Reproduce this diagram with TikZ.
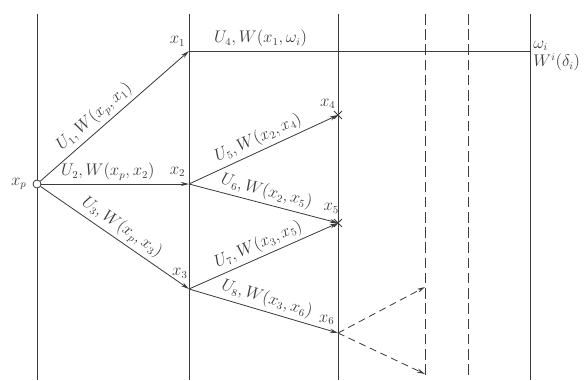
\documentclass[tikz,border=0pt]{standalone}
\usetikzlibrary{arrows.meta,positioning,shapes.misc}
\definecolor{ink}{RGB}{60,60,60}

\begin{document}
\begin{tikzpicture}[x=0.03cm, y=-0.03cm,
    ln/.style={draw=ink, line width=0.7pt},
    arr/.style={ln, -{Stealth[length=7pt, width=3.5pt]}},
    darr/.style={arr, dash pattern=on 6pt off 4pt},
    lbl/.style={font=\fontsize{13.5}{16}\selectfont, text=ink, sloped, above, midway, inner sep=3pt},
    pt/.style={font=\fontsize{13.5}{16}\selectfont, text=ink, inner sep=1pt},
    xmark/.style={cross out, draw=ink, line width=0.7pt, minimum size=6pt, inner sep=0pt}
]
\useasboundingbox (0,0) rectangle (587,380);

% stage boundaries
\foreach \xx in {37,189,338,530}
  \draw[ln] (\xx,14) -- (\xx,380);
\foreach \xx in {425,468}
  \draw[ln, dash pattern=on 9pt off 4pt] (\xx,14) -- (\xx,376);

\node[circle, draw=ink, fill=white, line width=0.7pt, minimum size=2.4mm, inner sep=0pt] (xp) at (37,184) {};
\coordinate (x1) at (189,51);
\coordinate (x2) at (189,184);
\coordinate (x3) at (189,289);
\node[xmark] (x4) at (338,115) {};
\node[xmark] (x5) at (338,223) {};
\coordinate (x6) at (338,333);
\coordinate (wi) at (530,51);
\coordinate (d1) at (425,287);
\coordinate (d2) at (425,374);

\node[pt, left=4pt of xp] (lxp) {$x_p$};
\node[pt, above left=3pt and 2pt of x1] (lx1) {$x_1$};
\node[pt, above left=5pt and 2pt of x2] (lx2) {$x_2$};
\node[pt, above left=8pt and 0pt of x3] (lx3) {$x_3$};
\node[pt, above left=4pt and 1pt of x4.center] (lx4) {$x_4$};
\node[pt, above left=7pt and -2pt of x5.center] (lx5) {$x_5$};
\node[pt, above left=6pt and 2pt of x6] (lx6) {$x_6$};
\node[pt, anchor=west] (lom) at (532,46) {$\omega_i$};
\node[pt, anchor=north west] (lwd) at (lom.south west) {$W^i(\delta_i)$};

\draw[arr] (xp) -- (x1) node[lbl, pos=0.42] {$U_1,W(x_p,x_1)$};
\draw[arr] (xp) -- (x2) node[lbl, pos=0.45] {$U_2,W(x_p,x_2)$};
\draw[arr] (xp) -- (x3) node[lbl] {$U_3,W(x_p,x_3)$};
\draw[ln] (x1) -- (wi) node[lbl, pos=0.21] {$U_4,W(x_1,\omega_i)$};
\draw[arr] (x2) -- (x4.center) node[lbl] {$U_5,W(x_2,x_4)$};
\draw[arr] (x2) -- (x5.center) node[lbl] {$U_6,W(x_2,x_5)$};
\draw[arr] (x3) -- (x5.center) node[lbl] {$U_7,W(x_3,x_5)$};
\draw[arr] (x3) -- (x6) node[lbl] {$U_8,W(x_3,x_6)$};
\draw[darr] (x6) -- (d1);
\draw[darr] (x6) -- (d2);
\end{tikzpicture}
\end{document}
